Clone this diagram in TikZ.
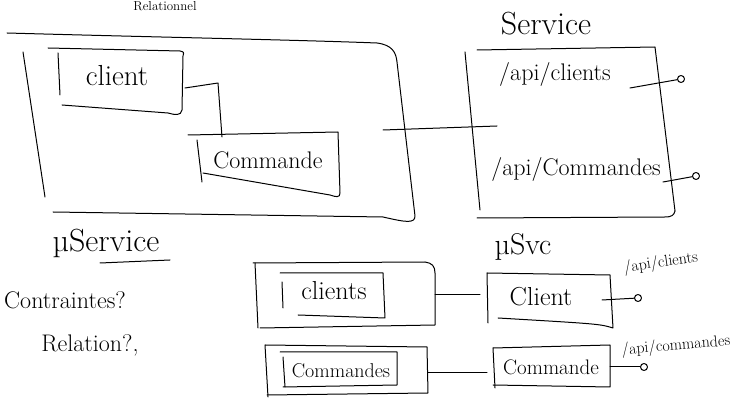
\documentclass[tikz,border=0pt]{standalone}
\begin{document}
\begin{tikzpicture}[x=1pt,y=-1pt,line width=1pt,line cap=round,line join=round,
  hand/.style={inner sep=0pt,font=\fontsize{24}{26}\selectfont},
  big/.style={inner sep=0pt,font=\fontsize{32}{34}\selectfont},
  small/.style={inner sep=0pt,font=\fontsize{16}{18}\selectfont},
  port/.style={circle,draw,inner sep=0pt,minimum size=7pt,line width=1pt}]
\useasboundingbox (0,0) rectangle (740,398);
% top title (cut in the reference)
\node[inner sep=0pt,font=\fontsize{13}{14}\selectfont] (title) at (165,6) {Relationnel};
% ---------- monolith ----------
\draw (7,33) .. controls (150,37) and (300,40) .. (377,43) .. controls (392,45) and (396,52) .. (397,62) -- (415,216) .. controls (415,224) and (405,222) .. (383,217) -- (53,212);
\draw (23,52) -- (45,197);
% client box
\draw (48,48) -- (180,51) .. controls (184,52) .. (183,56) -- (182,110) .. controls (181,116) and (175,115) .. (168,113) -- (62,105);
\draw (58,53) -- (60,95);
\node[hand,font=\fontsize{29}{31}\selectfont] (client) at (117,76) {client};
% commande box
\draw (188,135) -- (338,132) -- (340,193) .. controls (340,198) and (336,197) .. (330,195) -- (203,173);
\draw (197,140) -- (202,182);
\node[hand] (commande) at (268,160) {Commande};
\coordinate (cl-r) at (185,88);
\coordinate (co-t) at (222,137);
\draw (cl-r) -- (218,83) -- (co-t);
% ---------- service ----------
\node[big] (service) at (546,24) {Service};
\draw (477,50) -- (655,47) -- (675,211);
\draw (465,52) -- (480,210);
\draw (477,218) -- (665,217) .. controls (672,217) and (674,215) .. (675,211);
\coordinate (mono-r) at (383,130);
\coordinate (srv-in) at (497,126);
\draw (mono-r) -- (srv-in);
\node[hand] (apicl) at (555,75) {/api/clients};
\node[hand] (apico) at (576,170) {/api/Commandes};
\node[port] (p1) at (681,79) {};
\coordinate (p1s) at (630,88);
\draw (p1s) -- (p1);
\node[port] (p2) at (696,176) {};
\coordinate (p2s) at (663,182);
\draw (p2s) -- (p2);
% ---------- notes ----------
\node[big] (mus) at (106,243) {µService};
\draw (100,263) -- (170,260);
\node[hand] (contr) at (65,300) {Contraintes?};
\node[hand] (rel) at (90,345) {Relation?,};
% ---------- micro services ----------
\node[hand,font=\fontsize{30}{32}\selectfont] (musvc) at (523,247) {µSvc};
% clients db
\draw (253,263) -- (425,262) .. controls (432,263) and (435,266) .. (435,273) -- (435,325) -- (260,328);
\draw (255,263) -- (258,328);
\draw (280,273) -- (383,273) -- (385,318) -- (298,315);
\draw (282,282) -- (283,308);
\node[hand,font=\fontsize{26}{28}\selectfont] (clients) at (334,291) {clients};
% client svc
\draw (487,273) -- (610,275) -- (613,328) .. controls (600,324) .. (498,318);
\draw (487,273) -- (488,323);
\node[hand,font=\fontsize{26}{28}\selectfont] (clientsvc) at (541,297) {Client};
\coordinate (db1) at (435,295);
\coordinate (sv1) at (480,295);
\draw (db1) -- (sv1);
\node[port] (p3) at (638,298) {};
\coordinate (p3s) at (602,300);
\draw (p3s) -- (p3);
\node[small,rotate=8] (api3) at (661,263) {/api/clients};
% commandes db
\draw (265,345) -- (427,347) -- (428,393) -- (267,395);
\draw (265,345) -- (268,397);
\draw (280,352) -- (397,352) -- (397,385) -- (283,387);
\draw (283,357) -- (285,387);
\node[hand,font=\fontsize{20}{22}\selectfont] (commandes) at (341,371) {Commandes};
% commande svc
\draw (493,348) -- (610,345) -- (610,387) -- (493,385);
\draw (493,348) -- (495,388);
\node[hand,font=\fontsize{21}{23}\selectfont] (commandesvc) at (551,367) {Commande};
\coordinate (db2) at (428,373);
\coordinate (sv2) at (487,373);
\draw (db2) -- (sv2);
\node[port] (p4) at (644,367) {};
\coordinate (p4s) at (610,367);
\draw (p4s) -- (p4);
\node[small,rotate=5] (api4) at (676,346) {/api/commandes};
\end{tikzpicture}
\end{document}
